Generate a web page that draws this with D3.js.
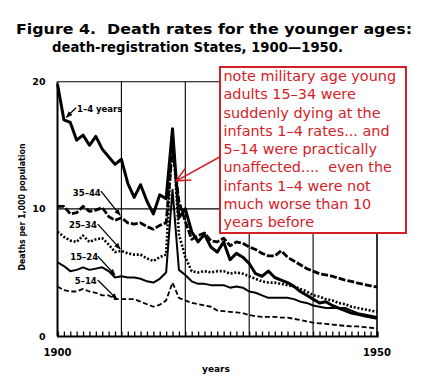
<!DOCTYPE html>
<html>
<head>
  <meta charset="utf-8">
  <script src="https://d3js.org/d3.v7.min.js"></script>
  <style>
    body { margin: 0; background: #fff; }
    svg { display: block; }
    .lbl { font-family: "DejaVu Sans", sans-serif; font-weight: bold; fill: #000; }
    .note { font-family: "DejaVu Sans", sans-serif; fill: #d42128; font-size: 14.4px; }
  </style>
</head>
<body>
  <svg width="426" height="383"></svg>
  <script>
    // years and death rates per 1,000
    var years = d3.range(1900, 1951);
    var ages1to4 = [19.8, 17.0, 16.8, 15.4, 15.8, 15.0, 15.7, 14.7, 14.1, 13.5,
      13.9, 12.0, 10.9, 11.9, 10.6, 9.6, 11.1, 10.8, 16.3, 9.3,
      10.0, 8.2, 7.4, 8.0, 7.0, 6.6, 7.4, 6.0, 6.5, 6.2,
      5.7, 4.9, 4.7, 5.1, 4.6, 4.4, 4.2, 3.9, 3.5, 3.2,
      2.9, 2.6, 2.7, 2.4, 2.2, 2.0, 1.8, 1.7, 1.6, 1.5, 1.4];
    var ages35to44 = [10.2, 10.2, 9.6, 9.7, 10.2, 9.8, 9.9, 10.1, 9.4, 9.1,
      9.3, 8.9, 8.8, 8.9, 8.6, 8.4, 8.7, 8.9, 14.8, 10.6,
      9.0, 7.6, 7.9, 8.1, 7.5, 7.4, 7.7, 7.1, 7.4, 7.3,
      7.0, 6.8, 6.5, 6.3, 6.3, 6.7, 6.2, 5.9, 5.6, 5.3,
      5.1, 4.9, 4.8, 4.7, 4.55, 4.4, 4.3, 4.15, 4.05, 3.95, 3.85];
    var ages25to34 = [8.2, 7.8, 7.5, 7.4, 7.9, 7.4, 7.6, 7.7, 7.2, 6.6,
      6.7, 6.5, 6.4, 6.4, 6.1, 5.9, 6.2, 6.4, 16.1, 8.0,
      6.2, 5.1, 5.0, 5.1, 5.0, 5.1, 5.1, 4.9, 5.0, 4.9,
      4.7, 4.5, 4.3, 4.2, 4.2, 4.1, 4.0, 3.9, 3.7, 3.5,
      3.2, 3.1, 2.9, 2.8, 2.6, 2.5, 2.3, 2.2, 2.1, 2.0, 1.9];
    var ages15to24 = [5.8, 5.5, 5.1, 5.2, 5.4, 5.2, 5.3, 5.4, 5.1, 4.6,
      4.7, 4.6, 4.6, 4.5, 4.3, 4.2, 4.5, 5.0, 11.5, 5.2,
      4.8, 4.3, 4.1, 4.1, 4.0, 4.0, 4.0, 3.8, 3.9, 3.8,
      3.5, 3.4, 3.2, 3.0, 3.0, 3.0, 3.0, 2.9, 2.7, 2.6,
      2.4, 2.3, 2.2, 2.2, 2.2, 2.2, 2.0, 1.8, 1.7, 1.6, 1.5];
    var ages5to14 = [3.9, 3.6, 3.5, 3.5, 3.7, 3.5, 3.4, 3.2, 3.2, 2.9,
      2.9, 2.9, 2.9, 2.7, 2.5, 2.3, 2.45, 2.8, 4.2, 3.0,
      2.8, 2.6, 2.5, 2.4, 2.3, 2.0, 1.95, 1.9, 1.85, 1.8,
      1.65, 1.55, 1.5, 1.5, 1.5, 1.45, 1.45, 1.35, 1.25, 1.15,
      1.05, 1.0, 0.95, 0.9, 0.85, 0.8, 0.75, 0.75, 0.7, 0.65, 0.6];

    var gridYears = [1900, 1910, 1920, 1930, 1940, 1950];
    var yTicks = [0, 10, 20];
    var noteLines = [
      "note military age young",
      "adults 15\u201334 were",
      "suddenly dying at the",
      "infants 1\u20134 rates... and",
      "5\u201314 were practically",
      "unaffected....  even the",
      "infants 1\u20134 were not",
      "much worse than 10",
      "years before"
    ];

    var series = [
      { name: "1\u20134 years", values: ages1to4, width: 3, dash: null,
        lx: 1903.05, ly: 17.65, from: [1902.9, 17.95], to: [1901.4, 17.2] },
      { name: "35\u201344", values: ages35to44, width: 2.8, dash: "7,2",
        lx: 1902.4, ly: 11.0, from: [1906.8, 11.4], to: [1909.8, 9.5] },
      { name: "25\u201334", values: ages25to34, width: 2.6, dash: "2,1.8",
        lx: 1901.8, ly: 8.5, from: [1906.3, 8.8], to: [1909.8, 6.85] },
      { name: "15\u201324", values: ages15to24, width: 2, dash: null,
        lx: 1902.0, ly: 5.97, from: [1906.3, 6.28], to: [1909.0, 4.8] },
      { name: "5\u201314", values: ages5to14, width: 1.8, dash: "5,2.5",
        lx: 1902.7, ly: 4.08, from: [1906.3, 4.4], to: [1909.3, 2.9] }
    ];

    var svg = d3.select("svg");
    var x = d3.scaleLinear().domain([1900, 1950]).range([57.5, 377]);
    var y = d3.scaleLinear().domain([0, 20]).range([336, 81.7]);

    svg.append("defs").append("marker")
      .attr("id", "tip")
      .attr("viewBox", "0 -5 10 10")
      .attr("refX", 9).attr("refY", 0)
      .attr("markerWidth", 5).attr("markerHeight", 5)
      .attr("orient", "auto")
      .append("path").attr("d", "M0,-4L10,0L0,4Z").attr("fill", "#000");

    // title
    svg.append("text").attr("class", "lbl")
      .attr("x", 16).attr("y", 33.5)
      .attr("font-size", 14)
      .attr("textLength", 396).attr("lengthAdjust", "spacingAndGlyphs")
      .attr("xml:space", "preserve")
      .text("Figure 4.  Death rates for the younger ages:");
    svg.append("text").attr("class", "lbl")
      .attr("x", 52).attr("y", 51.5)
      .attr("font-size", 14)
      .attr("textLength", 291).attr("lengthAdjust", "spacingAndGlyphs")
      .text("death-registration States, 1900\u20141950.");

    // grid
    var grid = svg.append("g");
    grid.selectAll(".vg").data(gridYears).enter().append("line")
      .attr("x1", function (d) { return x(d); }).attr("x2", function (d) { return x(d); })
      .attr("y1", y(20)).attr("y2", y(0))
      .attr("stroke", "#000")
      .attr("stroke-width", function (d) { return d === 1900 ? 2 : (d === 1950 ? 1.6 : 1.1); });
    grid.selectAll(".hg").data([10, 20]).enter().append("line")
      .attr("x1", x(1900)).attr("x2", x(1950))
      .attr("y1", function (d) { return y(d); }).attr("y2", function (d) { return y(d); })
      .attr("stroke", "#000").attr("stroke-width", 1.1);

    // bottom axis with yearly ticks pointing up
    var xAxis = d3.axisBottom(x).tickValues(years).tickSize(-4.5).tickFormat("");
    var gx = svg.append("g").attr("transform", "translate(0," + y(0) + ")").call(xAxis);
    gx.select(".domain").attr("stroke-width", 2.2);
    gx.selectAll(".tick line").attr("stroke-width", 1.3);

    svg.selectAll(".xl").data([1900, 1950]).enter().append("text")
      .attr("class", "lbl").attr("font-size", 10)
      .attr("x", function (d) { return x(d); }).attr("y", 356)
      .attr("text-anchor", "middle")
      .text(function (d) { return d; });
    svg.append("text").attr("class", "lbl").attr("font-size", 9)
      .attr("x", 216).attr("y", 371.5).attr("text-anchor", "middle").text("years");

    svg.selectAll(".yl").data(yTicks).enter().append("text")
      .attr("class", "lbl").attr("font-size", 9.5)
      .attr("x", 45.5).attr("y", function (d) { return y(d) + 3.5; })
      .attr("text-anchor", "end")
      .text(function (d) { return d; });
    svg.append("text").attr("class", "lbl").attr("font-size", 8)
      .attr("transform", "translate(25,207) rotate(-90)")
      .attr("text-anchor", "middle")
      .attr("textLength", 127).attr("lengthAdjust", "spacingAndGlyphs")
      .text("Deaths per 1,000 population");

    // series
    var line = d3.line()
      .x(function (d, i) { return x(years[i]); })
      .y(function (d) { return y(d); });

    series.slice().reverse().forEach(function (s) {
      svg.append("path")
        .datum(s.values)
        .attr("d", line)
        .attr("fill", "none")
        .attr("stroke", "#000")
        .attr("stroke-width", s.width)
        .attr("stroke-linejoin", "round")
        .attr("stroke-dasharray", s.dash);
    });

    series.forEach(function (s) {
      svg.append("text").attr("class", "lbl").attr("font-size", 8.5)
        .attr("x", x(s.lx)).attr("y", y(s.ly))
        .text(s.name);
      svg.append("line")
        .attr("x1", x(s.from[0])).attr("y1", y(s.from[1]))
        .attr("x2", x(s.to[0])).attr("y2", y(s.to[1]))
        .attr("stroke", "#000").attr("stroke-width", 1.3)
        .attr("marker-end", "url(#tip)");
    });

    // red note
    var note = svg.append("g");
    note.append("rect")
      .attr("x", 220).attr("y", 67).attr("width", 186).attr("height", 166)
      .attr("fill", "#fff").attr("stroke", "#d42128").attr("stroke-width", 2);
    note.selectAll("text").data(noteLines).enter().append("text")
      .attr("class", "note")
      .attr("x", 223.5)
      .attr("y", function (d, i) { return 81 + i * 18.25; })
      .attr("xml:space", "preserve")
      .text(function (d) { return d; });

    // red arrow pointing at the 1918 spike
    var ax0 = x(1925.3), ay0 = y(14.06), ax1 = x(1918.6), ay1 = y(12.2);
    var ang = Math.atan2(ay0 - ay1, ax0 - ax1);
    var wing = 15, spread = 0.45;
    note.append("path")
      .attr("d", "M" + ax0 + "," + ay0 + "L" + ax1 + "," + ay1 +
        "M" + (ax1 + wing * Math.cos(ang - spread)) + "," + (ay1 + wing * Math.sin(ang - spread)) +
        "L" + ax1 + "," + ay1 +
        "L" + (ax1 + wing * Math.cos(ang + spread)) + "," + (ay1 + wing * Math.sin(ang + spread)))
      .attr("fill", "none").attr("stroke", "#d42128").attr("stroke-width", 1.6);
  </script>
</body>
</html>
